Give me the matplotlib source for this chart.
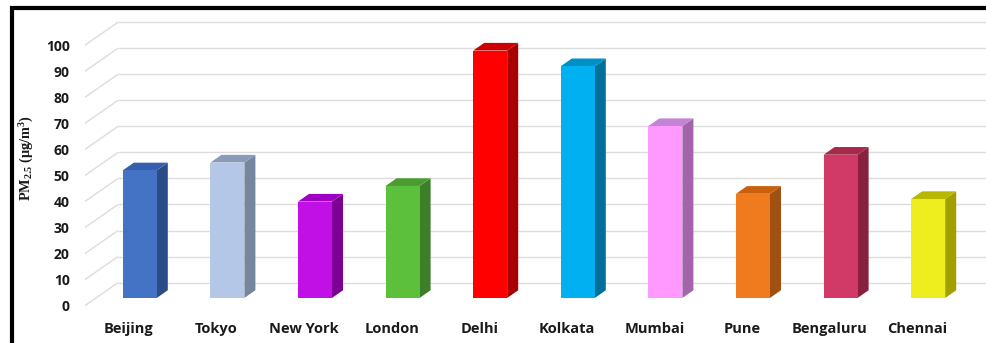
import matplotlib
matplotlib.use("Agg")
import matplotlib.pyplot as plt
from matplotlib.patches import Polygon, Rectangle

# ---- data ----
cities = ["Beijing", "Tokyo", "New York", "London", "Delhi",
          "Kolkata", "Mumbai", "Pune", "Bengaluru", "Chennai"]
pm25 = [49, 52, 37, 43, 95, 89, 66, 40, 55, 38]
y_ticks = [0, 10, 20, 30, 40, 50, 60, 70, 80, 90, 100]

# ---- styles ----
front_colors = ["#4472C4", "#B4C7E7", "#C010E6", "#5CC03C", "#FF0000",
                "#00B0F0", "#FF99FF", "#F07A1E", "#D13A66", "#EEEE1E"]
top_colors = ["#3560AE", "#8A9BBA", "#A000C4", "#4A9C30", "#CC0000",
              "#0090C8", "#C484D4", "#C8600C", "#A8284C", "#B8B800"]
side_colors = ["#2B4C86", "#76869F", "#7C0092", "#3C7F28", "#A80000",
               "#00709A", "#A464AC", "#A05010", "#8A2040", "#A0A000"]

plt.rcParams["mathtext.fontset"] = "custom"
plt.rcParams["mathtext.rm"] = "Liberation Serif:bold"
plt.rcParams["mathtext.default"] = "rm"

W, H = 986, 343
fig = plt.figure(figsize=(W / 100, H / 100), dpi=100)

# axes geometry (pixels)
left_px, floor_px = 85, 305.6      # front floor left corner / front floor line
px_per_cat, px_per_unit = 87.6, 2.604
ax = fig.add_axes([left_px / W, (H - floor_px) / H,
                   (W - left_px) / W, floor_px / H])
ax.set_xlim(-0.5, -0.5 + (W - left_px) / px_per_cat)
ax.set_ylim(0, floor_px / px_per_unit)
for s in ax.spines.values():
    s.set_visible(False)
ax.set_facecolor("none")

# 3D depth (in data units)
DX = 33.0 / px_per_cat
DY = 23.0 / px_per_unit
xmax = ax.get_xlim()[1]

# walls: gridlines (slanted left wall + back wall)
for v in y_ticks:
    ax.plot([-0.5, -0.5 + DX], [v, v + DY], color="#dcdcdc", lw=1.0,
            zorder=1, clip_on=False, solid_capstyle="butt")
    ax.plot([-0.5 + DX, xmax], [v + DY, v + DY], color="#dcdcdc", lw=1.0,
            zorder=1, clip_on=False, solid_capstyle="butt")

# bars
bw = 34.0 / px_per_cat
for i, v in enumerate(pm25):
    x0 = i + DX / 3 - bw / 2
    x1 = x0 + bw
    y0 = DY / 3
    y1 = DY / 3 + v
    ddx, ddy = DX / 3, DY / 3
    ax.add_patch(Polygon([(x1, y0), (x1 + ddx, y0 + ddy), (x1 + ddx, y1 + ddy), (x1, y1)],
                         closed=True, facecolor=side_colors[i], edgecolor="none",
                         zorder=3, clip_on=False))
    ax.add_patch(Polygon([(x0, y1), (x1, y1), (x1 + ddx, y1 + ddy), (x0 + ddx, y1 + ddy)],
                         closed=True, facecolor=top_colors[i], edgecolor="none",
                         zorder=3, clip_on=False))
    ax.add_patch(Rectangle((x0, y0), bw, v, facecolor=front_colors[i],
                           edgecolor="none", zorder=4, clip_on=False))

# ticks
tick_font = dict(family=["Open Sans", "DejaVu Sans"], weight="bold")
ax.set_yticks(y_ticks)
ax.set_yticklabels([str(t) for t in y_ticks], fontsize=10, color="#1a1a1a", **tick_font)
ax.set_xticks(range(len(cities)))
ax.set_xticklabels(cities, fontsize=10.5, color="#1a1a1a", **tick_font)
ax.tick_params(axis="y", length=0, pad=11)
ax.tick_params(axis="x", length=0, pad=12)

# y-axis title
fig.text(27 / W, (H - 158) / H, r"PM$_{\mathregular{2.5}}$ (μg/m$^{\mathregular{3}}$)",
         rotation=90, ha="center", va="center", fontsize=10.3,
         family=["Liberation Serif", "DejaVu Serif"], weight="bold", color="#1a1a1a")

# frame (top and left thick black border)
fig.patches.append(Rectangle((12 / W, -0.1), 1.2, (H - 8.5) / H + 0.1,
                             transform=fig.transFigure, fill=False,
                             edgecolor="black", lw=3.0, zorder=10))

fig.savefig("out.png", dpi=100)
